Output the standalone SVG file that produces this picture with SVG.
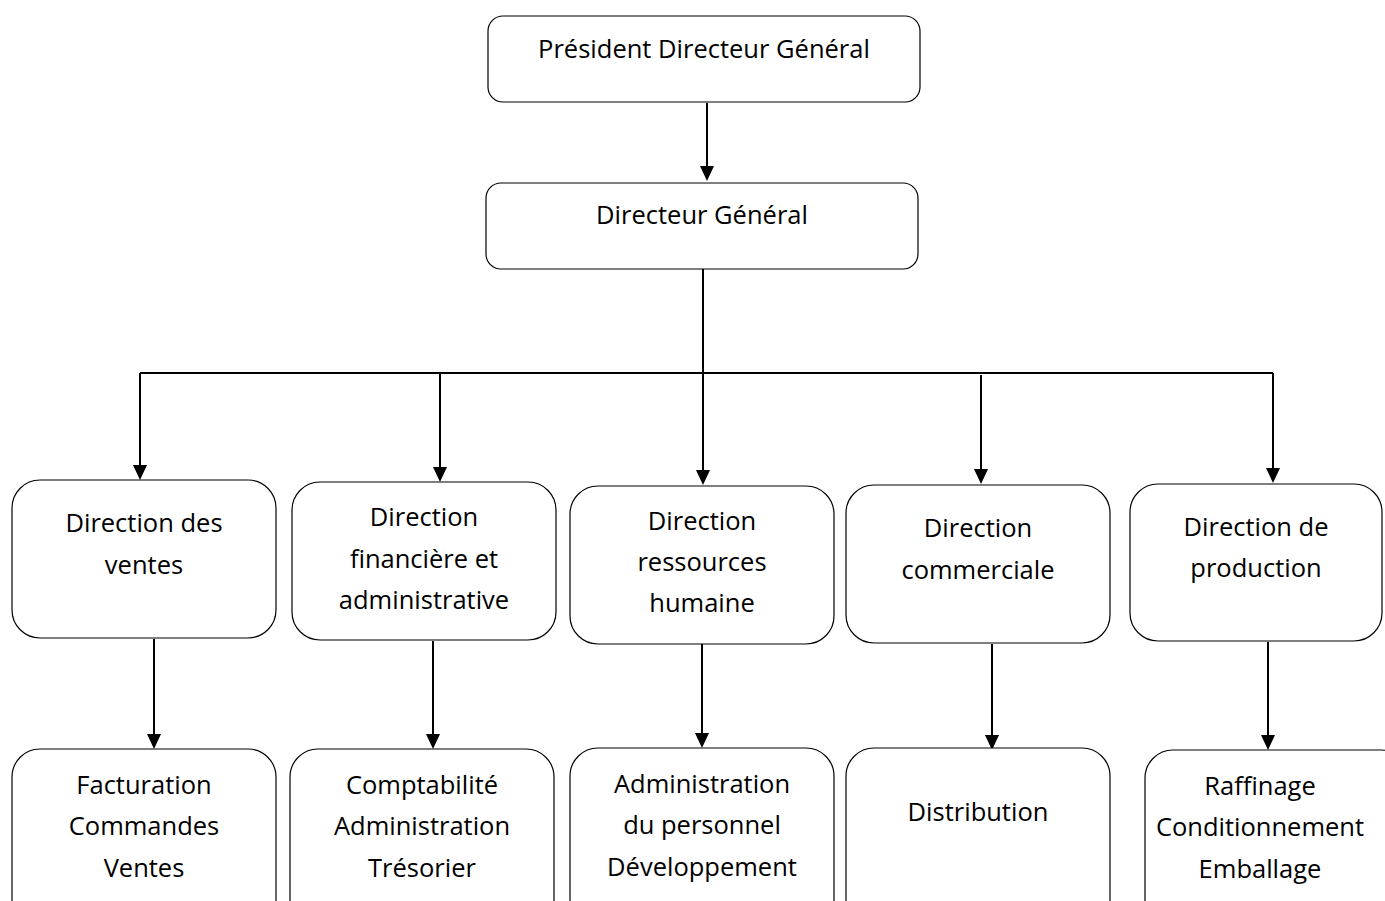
<svg xmlns="http://www.w3.org/2000/svg" width="1385" height="901" viewBox="0 0 1385 901">
<style>
.box{fill:#fff;stroke:#000;stroke-width:1.2}
.t{font-family:"Open Sans","Noto Sans",sans-serif;font-size:25.5px;fill:#000;text-anchor:middle}
.c{stroke:#000;stroke-width:2;fill:none}
.ah{fill:#000}
</style>
<rect width="1385" height="901" fill="#fff"/>
<g id="connectors">
<line class="c" x1="707" y1="103" x2="707" y2="170"/>
<path class="c" d="M703,269 V373 M140,373 H1273"/>
<line class="c" x1="140" y1="373" x2="140" y2="470"/>
<line class="c" x1="440" y1="373" x2="440" y2="472"/>
<line class="c" x1="703" y1="373" x2="703" y2="475"/>
<line class="c" x1="981" y1="375" x2="981" y2="474"/>
<line class="c" x1="1273" y1="373" x2="1273" y2="473"/>
<line class="c" x1="154" y1="639" x2="154" y2="739"/>
<line class="c" x1="433" y1="641" x2="433" y2="739"/>
<line class="c" x1="702" y1="642" x2="702" y2="738"/>
<line class="c" x1="992" y1="644" x2="992" y2="740"/>
<line class="c" x1="1268" y1="642" x2="1268" y2="740"/>
<path class="ah" d="M700,166 H714 L707,181 Z"/>
<path class="ah" d="M133,465 H147 L140,480 Z"/>
<path class="ah" d="M433,467 H447 L440,482 Z"/>
<path class="ah" d="M696,470 H710 L703,485 Z"/>
<path class="ah" d="M974,469 H988 L981,484 Z"/>
<path class="ah" d="M1266,468 H1280 L1273,483 Z"/>
<path class="ah" d="M147,734 H161 L154,749 Z"/>
<path class="ah" d="M426,734 H440 L433,749 Z"/>
<path class="ah" d="M695,733 H709 L702,748 Z"/>
<path class="ah" d="M985,735 H999 L992,750 Z"/>
<path class="ah" d="M1261,735 H1275 L1268,750 Z"/>
</g>
<g id="pdg"><rect class="box" x="488" y="16" width="432" height="86" rx="15"/><text class="t" x="704" y="58">Président Directeur Général</text></g>
<g id="dg"><rect class="box" x="486" y="183" width="432" height="86" rx="15"/><text class="t" x="702" y="224">Directeur Général</text></g>
<g id="dv"><rect class="box" x="12" y="480" width="264" height="158" rx="28"/><text class="t" x="144" y="532">Direction des</text><text class="t" x="144" y="574">ventes</text></g>
<g id="dfa"><rect class="box" x="292" y="482" width="264" height="158" rx="28"/><text class="t" x="424" y="526">Direction</text><text class="t" x="424" y="568">financière et</text><text class="t" x="424" y="609">administrative</text></g>
<g id="drh"><rect class="box" x="570" y="486" width="264" height="158" rx="28"/><text class="t" x="702" y="530">Direction</text><text class="t" x="702" y="571">ressources</text><text class="t" x="702" y="612">humaine</text></g>
<g id="dc"><rect class="box" x="846" y="485" width="264" height="158" rx="28"/><text class="t" x="978" y="537">Direction</text><text class="t" x="978" y="579">commerciale</text></g>
<g id="dp"><rect class="box" x="1130" y="484" width="252" height="157" rx="28"/><text class="t" x="1256" y="536">Direction de</text><text class="t" x="1256" y="577">production</text></g>
<g id="s1"><rect class="box" x="12" y="749" width="264" height="180" rx="28"/><text class="t" x="144" y="794">Facturation</text><text class="t" x="144" y="835">Commandes</text><text class="t" x="144" y="877">Ventes</text></g>
<g id="s2"><rect class="box" x="290" y="749" width="264" height="180" rx="28"/><text class="t" x="422" y="794">Comptabilité</text><text class="t" x="422" y="835">Administration</text><text class="t" x="422" y="877">Trésorier</text></g>
<g id="s3"><rect class="box" x="570" y="748" width="264" height="180" rx="28"/><text class="t" x="702" y="793">Administration</text><text class="t" x="702" y="834">du personnel</text><text class="t" x="702" y="876">Développement</text></g>
<g id="s4"><rect class="box" x="846" y="748" width="264" height="180" rx="28"/><text class="t" x="978" y="821">Distribution</text></g>
<g id="s5"><rect class="box" x="1145" y="750" width="264" height="180" rx="28"/><text class="t" x="1260" y="795">Raffinage</text><text class="t" x="1260" y="836">Conditionnement</text><text class="t" x="1260" y="878">Emballage</text></g>
</svg>
